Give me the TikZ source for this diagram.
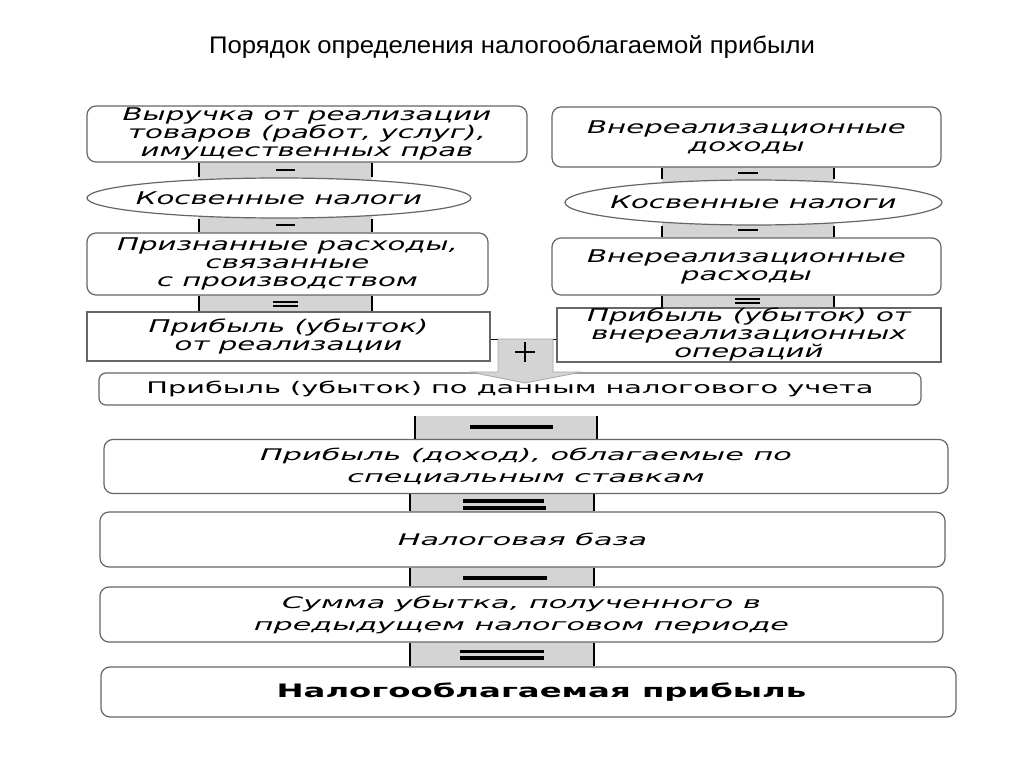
\documentclass[tikz,border=0pt]{standalone}
\usepackage{fontspec}
\setmainfont{Liberation Sans}
\newfontfamily\titlefont[FakeStretch=1.07]{Liberation Sans}
\newfontfamily\dvsup[FakeStretch=1.67]{DejaVu Sans}
\newfontfamily\dvslow[FakeStretch=1.89]{DejaVu Sans}
\newfontfamily\dvsmid[FakeStretch=1.8]{DejaVu Sans}
\newfontfamily\dvsbold[FakeStretch=1.75]{DejaVu Sans}
\usetikzlibrary{shapes.geometric}
\pgfdeclarelayer{background}
\pgfsetlayers{background,main}
\definecolor{conn}{HTML}{D4D4D4}
\definecolor{edge}{HTML}{666666}
\tikzset{
  rbox/.style={draw=edge,line width=1.2pt,fill=white,rounded corners=9pt,inner sep=0pt,align=center},
  sbox/.style={draw=edge,line width=1.2pt,fill=white,inner sep=0pt,align=center},
  ebox/.style={ellipse,draw=edge,line width=1.2pt,fill=white,inner xsep=-70pt,inner ysep=0pt,align=center},
  uptext/.style={font=\dvsup\itshape\fontsize{17.5}{18}\selectfont},
  lowtext/.style={font=\dvslow\itshape\fontsize{16}{22}\selectfont},
  side/.style={line width=2pt,black},
  thinsign/.style={line width=2pt,black},
  thicksign/.style={line width=3.5pt,black},
}
\newcommand\gconn[4]{%
  \begin{pgfonlayer}{background}
    \fill[conn] (#3,0 |- #1.center) rectangle (#4,0 |- #2.center);
  \end{pgfonlayer}
  \draw[side] (#3,0 |- #1.south) -- (#3,0 |- #2.north);
  \draw[side] (#4,0 |- #1.south) -- (#4,0 |- #2.north);
}
\begin{document}
\begin{tikzpicture}[x=1pt,y=-1pt]
\useasboundingbox (0,0) rectangle (1024,767);

\node[font=\titlefont\fontsize{24}{28}\selectfont] (title) at (512,47) {Порядок определения налогооблагаемой прибыли};

% left column
\node[rbox,uptext,minimum width=440pt,minimum height=56pt] (L1) at (307,134)
  {Выручка от реализации\\товаров (работ, услуг),\\имущественных прав};
\node[ebox,uptext,minimum width=384pt,minimum height=40pt] (L2) at (279,198) {Косвенные налоги};
\node[rbox,uptext,minimum width=401pt,minimum height=62pt] (L3) at (287.5,264)
  {Признанные расходы,\\связанные\\с производством};
\node[sbox,uptext,minimum width=403pt,minimum height=49pt] (L4) at (288.5,336.5)
  {Прибыль (убыток)\\от реализации};

% right column
\node[rbox,uptext,minimum width=389pt,minimum height=60pt] (R1) at (746.5,137)
  {Внереализационные\\доходы};
\node[ebox,uptext,minimum width=377pt,minimum height=45pt] (R2) at (753.5,202.5) {Косвенные налоги};
\node[rbox,uptext,minimum width=389pt,minimum height=57pt] (R3) at (746.5,266.5)
  {Внереализационные\\расходы};
\node[sbox,uptext,minimum width=384pt,minimum height=54pt] (R4) at (749,335)
  {Прибыль (убыток) от\\внереализационных\\операций};

% lower chain
\node[rbox,font=\dvsmid\fontsize{16}{20}\selectfont,rounded corners=7pt,minimum width=822pt,minimum height=32pt] (M) at (510,389)
  {Прибыль (убыток) по данным налогового учета};
\node[rbox,lowtext,minimum width=844pt,minimum height=54pt] (B1) at (526,466.5)
  {Прибыль (доход), облагаемые по\\специальным ставкам};
\node[rbox,lowtext,minimum width=845pt,minimum height=55pt] (B2) at (522.5,539.5) {Налоговая база};
\node[rbox,lowtext,minimum width=843pt,minimum height=55pt] (B3) at (521.5,614.5)
  {Сумма убытка, полученного в\\предыдущем налоговом периоде};
\node[rbox,font=\dvsbold\bfseries\fontsize{18.5}{22}\selectfont,minimum width=855pt,minimum height=50pt] (B4) at (528.5,692)
  {\hspace*{26pt}Налогооблагаемая прибыль};

\begin{pgfonlayer}{background}
  \fill[white] (0,0) rectangle (1024,767);
\end{pgfonlayer}

% connectors, left
\gconn{L1}{L2}{199}{372}
\gconn{L2}{L3}{199}{372}
\gconn{L3}{L4}{199}{372}
% connectors, right
\gconn{R1}{R2}{662}{834}
\gconn{R2}{R3}{662}{834}
\gconn{R3}{R4}{662}{834}
% connectors, lower
\coordinate (c1top) at (0,416);
\begin{pgfonlayer}{background}
  \fill[conn] (415,0 |- c1top) rectangle (597,0 |- B1.center);
\end{pgfonlayer}
\draw[side] (415,0 |- c1top) -- (415,0 |- B1.north);
\draw[side] (597,0 |- c1top) -- (597,0 |- B1.north);
\gconn{B1}{B2}{410}{594}
\gconn{B2}{B3}{410}{594}
\gconn{B3}{B4}{410}{594}

% signs, left
\draw[thinsign] (276,170) -- (295,170);
\draw[thinsign] (276,225) -- (295,225);
\draw[thinsign] (273,301.5) -- (298,301.5);
\draw[thinsign] (273,305.5) -- (298,305.5);
% signs, right
\draw[thinsign] (738,173) -- (758,173);
\draw[thinsign] (738,230.5) -- (758,230.5);
\draw[thinsign] (735,298.5) -- (760,298.5);
\draw[thinsign] (735,302.5) -- (760,302.5);
% signs, lower
\draw[line width=4.5pt] (470,427) -- (553,427);
\draw[thicksign] (463,501) -- (544,501);
\draw[thicksign] (463,508) -- (546,508);
\draw[thicksign] (463,578) -- (547,578);
\draw[thicksign] (460,651.5) -- (544,651.5);
\draw[thicksign] (460,658) -- (544,658);

% plus block arrow
\draw[line width=1pt] (L4.east |- 0,339) -- (R4.west |- 0,339);
\draw[fill=conn,draw=gray!70,line width=0.8pt]
  (498,339) -- (553,339) -- (553,372) -- (582,372) -- (525,383) -- (470,372) -- (498,372) -- cycle;
\draw[line width=2pt] (515,352) -- (535,352) (525,342) -- (525,362);
\end{tikzpicture}
\end{document}
